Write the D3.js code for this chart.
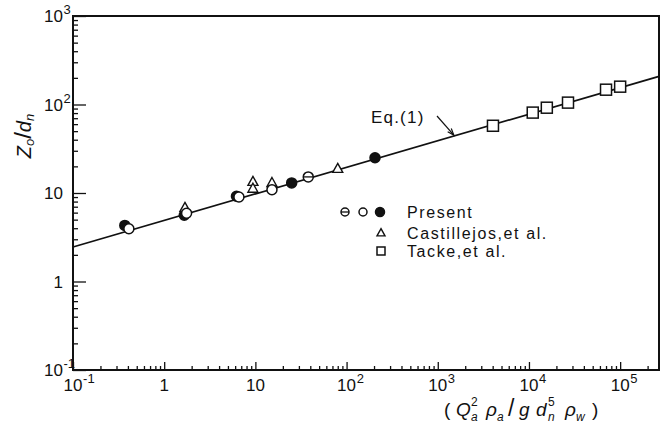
<!DOCTYPE html>
<html>
<head>
<meta charset="utf-8">
<script src="https://cdn.jsdelivr.net/npm/d3@7/dist/d3.min.js"></script>
<style>
  html, body { margin: 0; padding: 0; background: #fff; }
  svg { display: block; }
  text { font-family: "Liberation Sans", "DejaVu Sans", sans-serif; fill: #111; }
</style>
</head>
<body>
<svg id="chart" width="667" height="434"></svg>
<script>
// Present measurements (three symbol types)
const presentFilledX = [0.37, 1.66, 6.2, 25, 205];
const presentFilledY = [4.3, 5.6, 9.2, 13.0, 25];
const presentOpenX = [0.41, 1.76, 6.6, 15.2];
const presentOpenY = [3.95, 5.9, 9.0, 10.9];
const presentThetaX = [38];
const presentThetaY = [15.2];
// Castillejos, et al.
const castX = [1.69, 9.4, 9.4, 15.2, 80];
const castY = [6.8, 13.4, 11.2, 13.0, 18.8];
// Tacke, et al.
const tackeX = [4030, 11000, 15700, 26800, 70000, 100000];
const tackeY = [57.5, 81, 92, 105, 147, 159];
// Eq.(1): Z0/dn = C * X^n
const eqCoef = 4.9;
const eqExp = 0.3;
// Axis ticks
const xMajor = [0.1, 1, 10, 100, 1e3, 1e4, 1e5];
const xMajorMant = ["10", "1", "10", "10", "10", "10", "10"];
const xMajorExp = ["-1", "", "", "2", "3", "4", "5"];
const yMajor = [0.1, 1, 10, 100, 1000];
const yMajorMant = ["10", "1", "10", "10", "10"];
const yMajorExp = ["-1", "", "", "2", "3"];
const legendLabels = ["Present", "Castillejos,et al.", "Tacke,et al."];

const svg = d3.select("#chart");
const L = 73, R = 659, T = 16, B = 370;
const xMax = Math.pow(10, 5.426);
const x = d3.scaleLog().domain([0.1, xMax]).range([L, R]);
const y = d3.scaleLog().domain([0.1, 1000]).range([B, T]);

function minorTicks(lo, hi) {
  const out = [];
  for (let e = lo; e <= hi; e++) {
    for (let k = 2; k <= 9; k++) out.push(k * Math.pow(10, e));
  }
  return out;
}
const xMinor = minorTicks(-1, 5).filter(v => v < xMax);
const yMinor = minorTicks(-1, 2);

// Inward ticks on bottom and left axes
function tickAxis(axis, g) {
  g.call(axis).call(s => s.select(".domain").remove())
   .selectAll("line").attr("stroke", "#111").attr("stroke-width", 1.3);
}
tickAxis(d3.axisBottom(x).tickValues(xMajor).tickSize(-8).tickFormat(""),
  svg.append("g").attr("transform", `translate(0,${B})`));
tickAxis(d3.axisBottom(x).tickValues(xMinor).tickSize(-4).tickFormat(""),
  svg.append("g").attr("transform", `translate(0,${B})`));
tickAxis(d3.axisLeft(y).tickValues(yMajor).tickSize(-13).tickFormat(""),
  svg.append("g").attr("transform", `translate(${L},0)`));
tickAxis(d3.axisLeft(y).tickValues(yMinor).tickSize(-5).tickFormat(""),
  svg.append("g").attr("transform", `translate(${L},0)`));

// Frame
svg.append("rect").attr("x", L).attr("y", T).attr("width", R - L).attr("height", B - T)
  .attr("fill", "none").attr("stroke", "#111").attr("stroke-width", 2);

// Tick labels with exponents
xMajor.forEach((v, i) => {
  svg.append("text").attr("x", x(v)).attr("y", 391)
    .attr("font-size", 17).attr("text-anchor", "middle").text(xMajorMant[i]);
  if (xMajorExp[i]) {
    svg.append("text").attr("x", x(v) + xMajorMant[i].length * 4.8 + 0.5).attr("y", 383)
      .attr("font-size", 13).text(xMajorExp[i]);
  }
});
yMajor.forEach((v, i) => {
  svg.append("text").attr("x", 63).attr("y", y(v) + 6)
    .attr("font-size", 17).attr("text-anchor", "end").text(yMajorMant[i]);
  if (yMajorExp[i]) {
    svg.append("text").attr("x", 63.5).attr("y", y(v) - 2)
      .attr("font-size", 13).text(yMajorExp[i]);
  }
});

// Axis titles
const yt = svg.append("text").attr("transform", "translate(31,136) rotate(-90)")
  .attr("text-anchor", "middle").attr("font-size", 20).attr("font-style", "italic");
yt.append("tspan").text("Z");
yt.append("tspan").attr("font-size", 13).attr("dy", 3).text("o");
yt.append("tspan").attr("dy", -3).attr("font-size", 24).attr("font-style", "normal").text("/");
yt.append("tspan").text("d");
yt.append("tspan").attr("font-size", 13).attr("dy", 3).text("n");

// x title: (Q_a^2 ρ_a / g d_n^5 ρ_w) with stacked super/subscripts
const tb = 416;
function xTitle(xx, txt, opts = {}) {
  const t = svg.append("text").attr("x", xx).attr("y", tb + (opts.dy || 0))
    .attr("font-size", opts.size || 19).text(txt);
  if (opts.italic) t.attr("font-style", "italic");
  return t;
}
xTitle(444, "(");
xTitle(456, "Q", { italic: true });
xTitle(471, "2", { size: 12, dy: -10 });
xTitle(471, "a", { size: 12, dy: 5, italic: true });
xTitle(486, "ρ", { italic: true });
xTitle(497, "a", { size: 12, dy: 5, italic: true });
xTitle(508, "/", { size: 23 });
xTitle(519, "g", { italic: true });
xTitle(536, "d", { italic: true });
xTitle(548, "5", { size: 12, dy: -10 });
xTitle(548, "n", { size: 12, dy: 5, italic: true });
xTitle(565, "ρ", { italic: true });
xTitle(576, "w", { size: 12, dy: 5, italic: true });
xTitle(592, ")");

// Eq.(1) line
const lineX = [0.1, xMax];
svg.append("path")
  .attr("d", d3.line().x(d => x(d)).y(d => y(eqCoef * Math.pow(d, eqExp)))(lineX))
  .attr("fill", "none").attr("stroke", "#111").attr("stroke-width", 1.7);

// Eq.(1) label and arrow
svg.append("text").attr("x", 371).attr("y", 123).attr("font-size", 17).attr("letter-spacing", 1.2).text("Eq.(1)");
const ax = 1500;
const ay = eqCoef * Math.pow(ax, eqExp);
const tipX = x(ax), tipY = y(ay) - 1;
svg.append("line").attr("x1", 437).attr("y1", 116).attr("x2", tipX).attr("y2", tipY)
  .attr("stroke", "#111").attr("stroke-width", 1.2);
const ang = Math.atan2(tipY - 116, tipX - 437);
const hl = 7, hw = 0.35;
svg.append("path").attr("d", `M${tipX - hl * Math.cos(ang - hw)},${tipY - hl * Math.sin(ang - hw)} L${tipX},${tipY} L${tipX - hl * Math.cos(ang + hw)},${tipY - hl * Math.sin(ang + hw)}`)
  .attr("fill", "none").attr("stroke", "#111").attr("stroke-width", 1.2);

// Marker helpers
function circle(g, cx, cy, r, filled) {
  g.append("circle").attr("cx", cx).attr("cy", cy).attr("r", r)
    .attr("fill", filled ? "#111" : "#fff").attr("stroke", "#111").attr("stroke-width", 1.5);
}
function theta(g, cx, cy, r) {
  circle(g, cx, cy, r, false);
  g.append("line").attr("x1", cx - r).attr("x2", cx + r).attr("y1", cy).attr("y2", cy)
    .attr("stroke", "#111").attr("stroke-width", 1.3);
}
function tri(g, cx, cy, s) {
  const h = s * 0.9;
  g.append("path").attr("d", `M${cx},${cy - h * 0.6} L${cx + s / 2},${cy + h * 0.4} L${cx - s / 2},${cy + h * 0.4}Z`)
    .attr("fill", "#fff").attr("stroke", "#111").attr("stroke-width", 1.4);
}
function square(g, cx, cy, s) {
  g.append("rect").attr("x", cx - s / 2).attr("y", cy - s / 2).attr("width", s).attr("height", s)
    .attr("fill", "#fff").attr("stroke", "#111").attr("stroke-width", 1.5);
}

const marks = svg.append("g");
presentFilledX.forEach((v, i) => circle(marks, x(v), y(presentFilledY[i]), 5, true));
castX.forEach((v, i) => tri(marks, x(v), y(castY[i]), 10));
presentOpenX.forEach((v, i) => circle(marks, x(v), y(presentOpenY[i]), 5, false));
presentThetaX.forEach((v, i) => theta(marks, x(v), y(presentThetaY[i]), 5));
tackeX.forEach((v, i) => square(marks, x(v), y(tackeY[i]), 11));

// Legend
const lg = svg.append("g");
theta(lg, 345, 212, 4);
circle(lg, 363, 212, 4, false);
circle(lg, 380, 212, 4.5, true);
tri(lg, 381, 233, 8);
square(lg, 381, 251, 8);
[212, 233, 251].forEach((yy, i) => {
  lg.append("text").attr("x", 407).attr("y", yy + 5.5).attr("font-size", 16)
    .attr("letter-spacing", 1.6).text(legendLabels[i]);
});
</script>
</body>
</html>
